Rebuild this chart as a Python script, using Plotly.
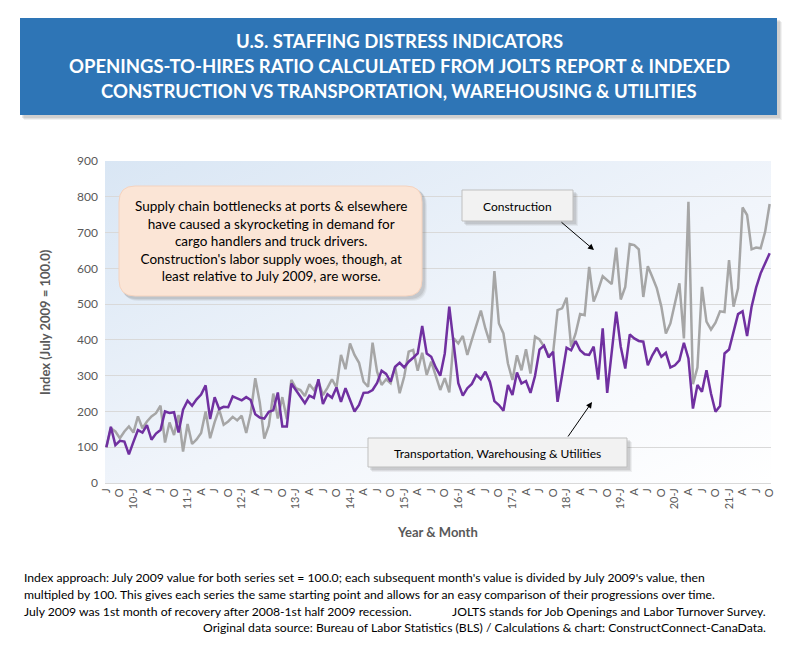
import base64
import pandas as pd
import plotly.graph_objects as go

# ---------------- data ----------------
months = pd.date_range("2009-07-01", periods=148, freq="MS").strftime("%Y-%m").tolist()

construction = [
    100, 153, 144, 125, 144, 158, 141, 186, 153, 172, 186, 195, 216, 113, 169, 134, 190, 88, 165, 109,
    122, 140, 200, 125, 170, 205, 163, 172, 185, 175, 188, 140, 195, 293, 225, 124, 160, 250, 180, 240,
    178, 288, 265, 260, 243, 276, 260, 283, 246, 266, 290, 267, 358, 318, 390, 358, 336, 283, 269, 392,
    311, 274, 290, 279, 325, 251, 297, 367, 372, 314, 364, 302, 339, 297, 260, 293, 253, 404, 390, 411,
    358, 400, 440, 482, 432, 392, 592, 446, 418, 334, 288, 357, 315, 374, 306, 409, 401, 381, 357, 362,
    483, 488, 518, 381, 418, 472, 469, 604, 507, 539, 578, 567, 556, 658, 513, 548, 668, 665, 653, 520,
    606, 576, 544, 493, 418, 446, 502, 558, 404, 786, 276, 323, 548, 451, 429, 448, 480, 478, 623, 493,
    544, 770, 749, 653, 658, 656, 702, 780,
]

transport = [
    100, 157, 106, 118, 116, 80, 115, 148, 141, 162, 121, 138, 148, 200, 196, 198, 141, 205, 230, 216,
    234, 247, 273, 179, 240, 207, 213, 212, 242, 237, 231, 240, 232, 192, 183, 180, 199, 203, 253, 158,
    158, 278, 260, 241, 223, 244, 238, 290, 221, 248, 238, 267, 227, 265, 232, 200, 218, 252, 253, 260,
    280, 314, 305, 283, 325, 336, 323, 339, 350, 362, 439, 362, 353, 323, 300, 362, 493, 380, 279, 244,
    265, 277, 302, 290, 311, 283, 229, 218, 202, 274, 246, 309, 278, 285, 252, 299, 373, 384, 351, 367,
    227, 301, 378, 371, 397, 371, 360, 358, 381, 289, 432, 252, 367, 479, 381, 320, 415, 404, 397, 395,
    329, 357, 378, 353, 364, 323, 329, 343, 392, 348, 208, 274, 255, 315, 250, 199, 215, 362, 373, 423,
    472, 480, 411, 493, 546, 586, 614, 642,
]

tick_labels = [
    "J", "O", "10-J", "A", "J", "O", "11-J", "A", "J", "O", "12-J", "A", "J", "O", "13-J", "A", "J",
    "O", "14-J", "A", "J", "O", "15-J", "A", "J", "O", "16-J", "A", "J", "O", "17-J", "A", "J", "O",
    "18-J", "A", "J", "O", "19-J", "A", "J", "O", "20-J", "A", "J", "O", "21-J", "A", "J", "O",
]
tick_vals = months[::3]

title_lines = [
    "U.S. STAFFING DISTRESS INDICATORS",
    "OPENINGS-TO-HIRES RATIO CALCULATED FROM JOLTS REPORT & INDEXED",
    "CONSTRUCTION VS TRANSPORTATION, WAREHOUSING & UTILITIES",
]
callout_text = ("Supply chain bottlenecks at ports & elsewhere<br>"
                "have caused a skyrocketing in demand for<br>"
                "cargo handlers and truck drivers.<br>"
                "Construction's labor supply woes, though, at<br>"
                "least relative to July 2009, are worse.")
foot1 = ("Index approach: July 2009 value for both series set = 100.0; each subsequent month's value "
         "is divided by July 2009's value, then")
foot2 = ("multipled by 100. This gives each series the same starting point and allows for an easy "
         "comparison of their progressions over time.")
foot3a = "July 2009 was 1st month of recovery after 2008-1st half 2009 recession."
foot3b = "JOLTS stands for Job Openings and Labor Turnover Survey."
foot4 = "Original data source: Bureau of Labor Statistics (BLS) / Calculations & chart: ConstructConnect-CanaData."

# ---------------- layout geometry ----------------
# page body has an 8px margin: figure pixel = screen pixel - 8
OFF = 8
W, H = 804 - OFF, 650 - OFF
ML, MT = 105 - OFF, 161 - OFF
PW, PH = 666, 322
MR, MB = W - ML - PW, H - MT - PH


def px(x):
    return (x - OFF - ML) / PW


def py(y):
    return (MT + PH - (y - OFF)) / PH


FONT = "Lato, Calibri, 'Open Sans', sans-serif"
GRAYTXT = "#595959"

fig = go.Figure()
fig.add_trace(go.Scatter(x=months, y=construction, mode="lines", name="Construction",
                         line=dict(color="#A6A6A6", width=2.5)))
fig.add_trace(go.Scatter(x=months, y=transport, mode="lines",
                         name="Transportation, Warehousing & Utilities",
                         line=dict(color="#7030A0", width=2.5)))

# gradient background for plot area
svg = ("<svg xmlns='http://www.w3.org/2000/svg' width='100' height='100' preserveAspectRatio='none'>"
       "<defs><linearGradient id='g' x1='0' y1='0' x2='1' y2='1'>"
       "<stop offset='0' stop-color='#D9E6F4'/><stop offset='0.55' stop-color='#F1F5FB'/>"
       "<stop offset='1' stop-color='#FFFFFF'/></linearGradient></defs>"
       "<rect width='100' height='100' fill='url(#g)'/></svg>")
svg_uri = "data:image/svg+xml;base64," + base64.b64encode(svg.encode()).decode()

shapes = []


def rect(x0, y0, x1, y1, fill, line=None, opacity=1.0, lw=1):
    shapes.append(dict(type="rect", xref="paper", yref="paper",
                       x0=px(x0), x1=px(x1), y0=py(y1), y1=py(y0),
                       fillcolor=fill, opacity=opacity,
                       line=dict(color=line or fill, width=lw if line else 0)))


def rounded(x0, y0, x1, y1, r, fill, line=None, opacity=1.0):
    p = (f"M {px(x0 + r)},{py(y0)} L {px(x1 - r)},{py(y0)} Q {px(x1)},{py(y0)} {px(x1)},{py(y0 + r)} "
         f"L {px(x1)},{py(y1 - r)} Q {px(x1)},{py(y1)} {px(x1 - r)},{py(y1)} "
         f"L {px(x0 + r)},{py(y1)} Q {px(x0)},{py(y1)} {px(x0)},{py(y1 - r)} "
         f"L {px(x0)},{py(y0 + r)} Q {px(x0)},{py(y0)} {px(x0 + r)},{py(y0)} Z")
    shapes.append(dict(type="path", xref="paper", yref="paper", path=p, fillcolor=fill,
                       opacity=opacity, line=dict(color=line or fill, width=1 if line else 0)))


def shadow(x0, y0, x1, y1, rr=None):
    for d, op in ((5, 0.10), (4, 0.14), (3, 0.18)):
        if rr:
            rounded(x0 + d - 1, y0 + d - 1, x1 + d, y1 + d, rr, "#7F7F7F", opacity=op)
        else:
            rect(x0 + d - 1, y0 + d - 1, x1 + d, y1 + d, "#7F7F7F", opacity=op)


# title banner
shadow(20, 18, 777, 115)
rect(20, 18, 777, 115, "#2E75B6")
# callout
shadow(119, 186, 422, 296, rr=16)
rounded(119, 186, 422, 296, 16, "#FBE5D6", line="#F4D3BF")
# construction label
shadow(462, 190, 573, 221)
rect(462, 190, 573, 221, "#F2F2F2", line="#BFBFBF")
# TWU label
shadow(368, 438, 627, 467)
rect(368, 438, 627, 467, "#F2F2F2", line="#BFBFBF")

annotations = []
for txt, yy in zip(title_lines, (41, 66, 91)):
    annotations.append(dict(xref="paper", yref="paper", x=px(399), y=py(yy), text="<b>" + txt + "</b>",
                            showarrow=False, xanchor="center", yanchor="middle",
                            font=dict(family=FONT, size=18.5, color="white")))
annotations.append(dict(xref="paper", yref="paper", x=px(270.5), y=py(241), text=callout_text,
                        showarrow=False, xanchor="center", yanchor="middle", align="center",
                        font=dict(family=FONT, size=13.5, color="#000000")))
annotations.append(dict(xref="paper", yref="paper", x=px(517.5), y=py(206), text="Construction",
                        showarrow=False, xanchor="center", yanchor="middle",
                        font=dict(family=FONT, size=12, color="#000000")))
annotations.append(dict(xref="paper", yref="paper", x=px(497.5), y=py(453),
                        text="Transportation, Warehousing & Utilities",
                        showarrow=False, xanchor="center", yanchor="middle",
                        font=dict(family=FONT, size=12, color="#000000")))
# arrows
annotations.append(dict(xref="paper", yref="paper", x=px(594), y=py(250), ax=560 - 594, ay=221 - 250,
                        text="", showarrow=True, arrowhead=2, arrowsize=1.2, arrowwidth=1,
                        arrowcolor="#000000"))
annotations.append(dict(xref="paper", yref="paper", x=px(592), y=py(402), ax=567 - 592, ay=438 - 402,
                        text="", showarrow=True, arrowhead=2, arrowsize=1.2, arrowwidth=1,
                        arrowcolor="#000000"))
# axis titles
annotations.append(dict(xref="paper", yref="paper", x=px(45), y=py(322),
                        text="<b>Index (July 2009 = 100.0)</b>", textangle=-90, showarrow=False,
                        xanchor="center", yanchor="middle",
                        font=dict(family=FONT, size=13, color=GRAYTXT)))
annotations.append(dict(xref="paper", yref="paper", x=px(437), y=py(532), text="<b>Year & Month</b>",
                        showarrow=False, xanchor="center", yanchor="middle",
                        font=dict(family=FONT, size=13, color=GRAYTXT)))
# footnotes
for txt, xx, yy, anc in ((foot1, 22, 577, "left"), (foot2, 22, 594, "left"), (foot3a, 22, 611, "left"),
                         (foot3b, 768, 611, "right"), (foot4, 768, 627, "right")):
    annotations.append(dict(xref="paper", yref="paper", x=px(xx), y=py(yy), text=txt, showarrow=False,
                            xanchor=anc, yanchor="middle",
                            font=dict(family=FONT, size=12.2, color="#000000")))

fig.update_layout(
    width=W, height=H,
    margin=dict(l=ML, r=MR, t=MT, b=MB),
    paper_bgcolor="white", plot_bgcolor="rgba(0,0,0,0)",
    showlegend=False,
    font=dict(family=FONT, color=GRAYTXT),
    shapes=shapes,
    annotations=annotations,
    images=[dict(source=svg_uri, xref="paper", yref="paper", x=0, y=1, sizex=1, sizey=1,
                 xanchor="left", yanchor="top", sizing="stretch", layer="below")],
    xaxis=dict(type="category", range=[-0.3, 147.3], tickmode="array", tickvals=tick_vals,
               ticktext=tick_labels, tickangle=-90, tickfont=dict(size=11, color=GRAYTXT),
               showgrid=False, showline=True, linecolor="#D9D9D9", linewidth=1, ticks="",
               zeroline=False, fixedrange=True),
    yaxis=dict(range=[0, 900], dtick=100, tick0=0, showgrid=True, gridcolor="#D9D9D9", gridwidth=1,
               zeroline=False, showline=False, tickfont=dict(size=12, color=GRAYTXT),
               ticklabelstandoff=6, fixedrange=True),
)

fig.write_html("out.html")
